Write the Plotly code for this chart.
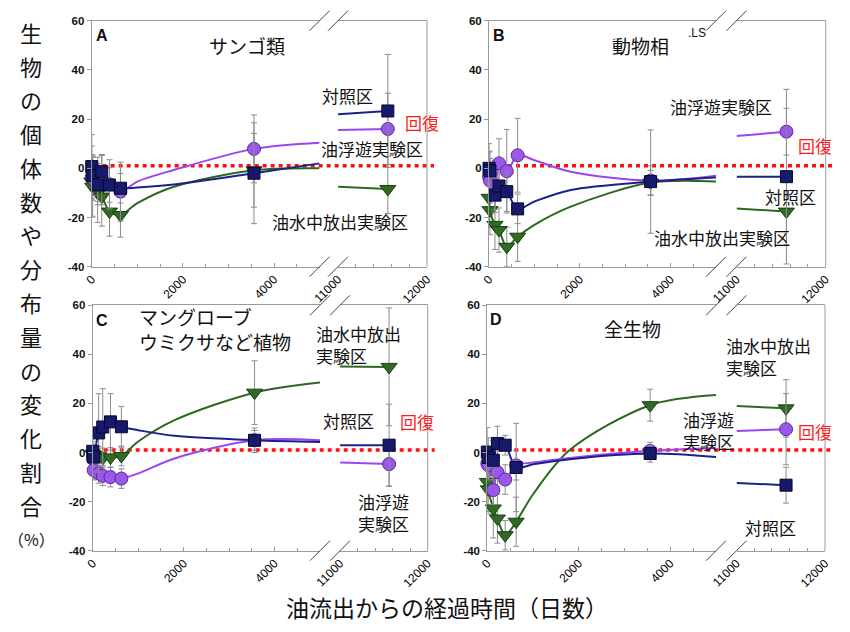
import plotly.graph_objects as go

# The page body has an 8px default margin, so the figure is drawn 8px smaller
# and every reference pixel position is shifted by that offset.
REF_W, REF_H = 850, 632
OFF = 8
W, H = REF_W - OFF, REF_H - OFF

# ---------------- data ----------------
days_early = [0, 20, 130, 220, 390, 630]      # early survey days
day_10y = 3560                                 # ~10 years
day_32y = 11560                                # ~32 years
curve_days = [1000, 1800]                      # points
left_end_day = 5000                            # curve end at axis break
right_start_day = 11000                        # start of right-hand line
recovery_level = 1.0

y_ticks = [-40, -20, 0, 20, 40, 60]
x_ticks_left = [0, 2000, 4000]
x_ticks_right = [11000, 12000]

# Panel A  サンゴ類
A_ctrl = [0.7, -3.0, -6.8, -1.4, -6.8, -8.1]
A_ctrl_10y, A_ctrl_32y = -2.0, 23.3
A_ctrl_err = [13, 8, 8, 7, 7, 6, 20.5, 23]
A_ctrl_curve = [-7.8, -6.6, 2.0]
A_ctrl_rstart = 22.0
A_flt = [-3.4, -4.0, -4.5, -4.8, -6.5, -9.5]
A_flt_10y, A_flt_32y = 7.9, 16.0
A_flt_err = [9, 9, 9, 10, 10, 12, 13.8, 14.5]
A_flt_curve = [-5.4, -0.7, 10.4]
A_flt_rstart = 15.6
A_sub = [-5.4, -7.5, -10.0, -11.5, -17.6, -19.0]
A_sub_10y, A_sub_32y = -0.8, -8.4
A_sub_err = [14.5, 12, 12, 12, 10, 9, 15, 10]
A_sub_curve = [-14.2, -7.5, 0.0]
A_sub_rstart = -7.5

# Panel B  動物相
B_ctrl = [0.0, -1.0, -10.9, -7.2, -9.5, -16.5]
B_ctrl_10y, B_ctrl_32y = -5.4, -3.4
B_ctrl_err = [10, 8, 7, 6, 8, 6, 21, 35.5]
B_ctrl_curve = [-13.5, -8.8, -3.7]
B_ctrl_rstart = -3.4
B_flt = [-3.4, -5.0, -6.8, 2.0, -1.2, 5.3]
B_flt_10y, B_flt_32y = -5.0, 14.9
B_flt_err = [10, 9, 10, 10, 17, 15, 6, 9.5]
B_flt_curve = [3.3, -1.4, -3.0]
B_flt_rstart = 13.1
B_sub = [-12.0, -17.0, -23.0, -25.1, -31.9, -27.8]
B_sub_10y, B_sub_32y = -5.8, -17.6
B_sub_err = [12, 10, 10, 9, 8, 10, 5, 13.5]
B_sub_curve = [-23.0, -15.6, -5.4]
B_sub_rstart = -16.3

# Panel C  マングローブ・ウミクサなど植物
C_ctrl = [0.5, -1.8, 8.0, 10.4, 12.5, 10.5]
C_ctrl_10y, C_ctrl_32y = 5.0, 3.0
C_ctrl_err = [4, 4, 16, 15.6, 11.5, 8.3, 5, 16.7]
C_ctrl_curve = [9.1, 6.8, 4.3]
C_ctrl_rstart = 3.0
C_flt = [-2.5, -7.2, -8.5, -9.5, -10.0, -10.6]
C_flt_10y, C_flt_32y = 5.0, -4.7
C_flt_err = [4, 4, 4, 4, 4, 4, 4, 9]
C_flt_curve = [-8.5, -2.4, 5.0]
C_flt_rstart = -4.1
C_sub = [-0.5, -1.0, -1.5, -2.2, -2.0, -1.4]
C_sub_10y, C_sub_32y = 24.4, 34.9
C_sub_err = [4, 4, 4, 4, 4, 4, 13, 24]
C_sub_curve = [4.5, 13.2, 28.5]
C_sub_rstart = 35.1

# Panel D  全生物
D_ctrl = [0.2, -2.0, -3.1, 3.7, 3.0, -6.1]
D_ctrl_10y, D_ctrl_32y = -0.4, -13.3
D_ctrl_err = [10, 8, 8, 7, 4, 18, 3.5, 7.3]
D_ctrl_curve = [-4.8, -2.7, -1.8]
D_ctrl_rstart = -12.4
D_flt = [-4.5, -5.2, -15.3, -8.0, -11.0, -5.2]
D_flt_10y, D_flt_32y = 0.7, 9.5
D_flt_err = [6, 6, 6, 6, 6, 6, 3.5, 14.5]
D_flt_curve = [-4.1, -2.2, 1.9]
D_flt_rstart = 8.8
D_sub = [-12.0, -15.0, -22.8, -26.9, -33.7, -28.2]
D_sub_10y, D_sub_32y = 19.3, 18.0
D_sub_err = [12, 10, 12, 10, 6, 10, 6.5, 11.7]
D_sub_curve = [-17.0, 1.0, 23.4]
D_sub_rstart = 19.0

# ---------------- styling ----------------
CJK = "Noto Sans CJK JP"
LAT = "Liberation Sans, Arial"
FRAME = "#9a9a9a"

STYLE = {
    "sub": dict(line="#2b6a1e", fill="#2f6b22", edge="#1b3f12", symbol="triangle-down", size=14),
    "flt": dict(line="#9b45f2", fill="#9a58e8", edge="#5b2a9c", symbol="circle", size=13),
    "ctrl": dict(line="#1b2189", fill="#17196a", edge="#05062e", symbol="square", size=12),
}

# panel geometry in reference pixels: left segment, right segment, vertical extent
GEOM = {
    "A": dict(xl=(91.7, 319.6), xr=(338, 427), y=(20.7, 266.7)),
    "B": dict(xl=(489, 716), xr=(736.5, 825.7), y=(20.7, 266.7)),
    "C": dict(xl=(92.7, 320), xr=(340, 427.7), y=(305.3, 550.7)),
    "D": dict(xl=(487.3, 716), xr=(736.5, 825), y=(305.3, 550.7)),
}

PANEL_DATA = {
    "A": {
        "ctrl": (A_ctrl, A_ctrl_10y, A_ctrl_32y, A_ctrl_err, A_ctrl_curve, A_ctrl_rstart),
        "flt": (A_flt, A_flt_10y, A_flt_32y, A_flt_err, A_flt_curve, A_flt_rstart),
        "sub": (A_sub, A_sub_10y, A_sub_32y, A_sub_err, A_sub_curve, A_sub_rstart),
    },
    "B": {
        "ctrl": (B_ctrl, B_ctrl_10y, B_ctrl_32y, B_ctrl_err, B_ctrl_curve, B_ctrl_rstart),
        "flt": (B_flt, B_flt_10y, B_flt_32y, B_flt_err, B_flt_curve, B_flt_rstart),
        "sub": (B_sub, B_sub_10y, B_sub_32y, B_sub_err, B_sub_curve, B_sub_rstart),
    },
    "C": {
        "ctrl": (C_ctrl, C_ctrl_10y, C_ctrl_32y, C_ctrl_err, C_ctrl_curve, C_ctrl_rstart),
        "flt": (C_flt, C_flt_10y, C_flt_32y, C_flt_err, C_flt_curve, C_flt_rstart),
        "sub": (C_sub, C_sub_10y, C_sub_32y, C_sub_err, C_sub_curve, C_sub_rstart),
    },
    "D": {
        "ctrl": (D_ctrl, D_ctrl_10y, D_ctrl_32y, D_ctrl_err, D_ctrl_curve, D_ctrl_rstart),
        "flt": (D_flt, D_flt_10y, D_flt_32y, D_flt_err, D_flt_curve, D_flt_rstart),
        "sub": (D_sub, D_sub_10y, D_sub_32y, D_sub_err, D_sub_curve, D_sub_rstart),
    },
}


def fx(px):
    return (px - OFF) / W


def fy(py):
    return 1 - (py - OFF) / H


fig = go.Figure()
layout = {}
shapes = []
annotations = []

for i, key in enumerate(["A", "B", "C", "D"]):
    g = GEOM[key]
    xl_id = 2 * i + 1
    xr_id = 2 * i + 2
    y_id = i + 1
    xl_name = "xaxis" if xl_id == 1 else f"xaxis{xl_id}"
    xr_name = f"xaxis{xr_id}"
    y_name = "yaxis" if y_id == 1 else f"yaxis{y_id}"
    xl_ref = "x" if xl_id == 1 else f"x{xl_id}"
    xr_ref = f"x{xr_id}"
    y_ref = "y" if y_id == 1 else f"y{y_id}"

    common_x = dict(
        showline=True, linecolor=FRAME, linewidth=1, mirror=True,
        showgrid=False, zeroline=False, ticks="inside", ticklen=4,
        tickcolor=FRAME, tickangle=-45, automargin=False,
        tickfont=dict(family=LAT, size=12, color="#000"),
    )
    layout[xl_name] = dict(
        common_x, domain=[fx(g["xl"][0]), fx(g["xl"][1])], range=[-1, left_end_day],
        anchor=y_ref, tickmode="array", tickvals=x_ticks_left,
        ticktext=[str(v) for v in x_ticks_left],
        minor=dict(dtick=500, ticks="inside", ticklen=3, tickcolor=FRAME),
    )
    layout[xr_name] = dict(
        common_x, domain=[fx(g["xr"][0]), fx(g["xr"][1])],
        range=[right_start_day - 1, x_ticks_right[-1] + 1],
        anchor=y_ref, tickmode="array", tickvals=x_ticks_right,
        ticktext=[str(v) for v in x_ticks_right],
        minor=dict(dtick=200, ticks="inside", ticklen=3, tickcolor=FRAME),
    )
    layout[y_name] = dict(
        domain=[fy(g["y"][1]), fy(g["y"][0])], range=[-40, 60], anchor=xl_ref,
        showline=True, linecolor=FRAME, linewidth=1, showgrid=False,
        zeroline=False, ticks="outside", ticklen=4, tickcolor=FRAME,
        tickvals=y_ticks, ticktext=[str(v) for v in y_ticks], automargin=False,
        tickfont=dict(family=LAT, size=11.5, color="#111", weight="bold"),
    )

    # right edge of frame
    shapes.append(dict(type="line", xref=f"{xr_ref} domain", yref=f"{y_ref} domain",
                       x0=1, x1=1, y0=0, y1=1, line=dict(color=FRAME, width=1)))
    # break marks
    for bx in (g["xl"][1], g["xr"][0]):
        for by in g["y"]:
            shapes.append(dict(type="line", xref="paper", yref="paper",
                               x0=fx(bx - 10), x1=fx(bx + 10),
                               y0=fy(by + 10), y1=fy(by - 10),
                               line=dict(color="#444", width=1)))
    # recovery (dotted red) line
    shapes.append(dict(type="line", xref="paper", yref=y_ref,
                       x0=fx(g["xl"][0] + 3), x1=fx(g["xr"][1] + 7),
                       y0=recovery_level, y1=recovery_level, layer="below",
                       line=dict(color="#ff1010", width=3.5, dash="4px,4px")))

    pdata = PANEL_DATA[key]
    # lines first
    for s in ["sub", "flt", "ctrl"]:
        early, v10, v32, err, curve, rstart = pdata[s]
        st = STYLE[s]
        lx = days_early + curve_days + [day_10y, left_end_day]
        ly = early + curve[:2] + [v10, curve[2]]
        order = sorted(range(len(lx)), key=lambda k: lx[k])
        fig.add_trace(go.Scatter(
            x=[lx[k] for k in order], y=[ly[k] for k in order], mode="lines",
            line=dict(color=st["line"], width=2, shape="spline", smoothing=0.9),
            xaxis=xl_ref, yaxis=y_ref, hoverinfo="skip", showlegend=False))
        fig.add_trace(go.Scatter(
            x=[right_start_day, day_32y], y=[rstart, v32], mode="lines",
            line=dict(color=st["line"], width=2),
            xaxis=xr_ref, yaxis=y_ref, hoverinfo="skip", showlegend=False))
    # markers with error bars
    for s in ["sub", "flt", "ctrl"]:
        early, v10, v32, err, curve, rstart = pdata[s]
        st = STYLE[s]
        mk = dict(symbol=st["symbol"], size=st["size"], color=st["fill"],
                  line=dict(color=st["edge"], width=1))
        eb = dict(type="data", thickness=1, width=3, color="#8c8c8c")
        fig.add_trace(go.Scatter(
            x=days_early + [day_10y], y=early + [v10], mode="markers",
            marker=mk, error_y=dict(eb, array=err[:7]), cliponaxis=False,
            xaxis=xl_ref, yaxis=y_ref, showlegend=False))
        fig.add_trace(go.Scatter(
            x=[day_32y], y=[v32], mode="markers",
            marker=mk, error_y=dict(eb, array=err[7:]), cliponaxis=False,
            xaxis=xr_ref, yaxis=y_ref, showlegend=False))


def txt(text, x, y, size=18, color="#111", family=CJK, xanchor="center",
        align="center", weight="normal"):
    annotations.append(dict(
        text=text, xref="paper", yref="paper", x=fx(x), y=fy(y),
        xanchor=xanchor, yanchor="middle", align=align, showarrow=False,
        font=dict(family=family, size=size, color=color, weight=weight)))


RED = "#ff1a1a"
# panel letters
txt("A", 102, 36, size=16, family=LAT, weight="bold")
txt("B", 499, 36, size=16, family=LAT, weight="bold")
txt("C", 102, 320, size=16, family=LAT, weight="bold")
txt("D", 496, 319, size=16, family=LAT, weight="bold")
txt(".LS", 697, 33, size=12, family=LAT)

# panel A
txt("サンゴ類", 247, 45, size=19)
txt("対照区", 347, 96, size=17)
txt("回復", 422, 122, size=17, color=RED)
txt("油浮遊実験区", 372, 149, size=17)
txt("油水中放出実験区", 340, 221, size=17)
# panel B
txt("動物相", 640, 45, size=19)
txt("油浮遊実験区", 721, 106, size=17)
txt("回復", 815, 145, size=17, color=RED)
txt("対照区", 790, 196, size=17)
txt("油水中放出実験区", 722, 237, size=17)
# panel C
txt("マングローブ<br>ウミクサなど植物", 137, 329, size=19, xanchor="left", align="left")
txt("油水中放出<br>実験区", 314, 344, size=17, xanchor="left", align="left")
txt("対照区", 348, 420, size=17)
txt("回復", 417, 421, size=17, color=RED)
txt("油浮遊<br>実験区", 356, 512, size=17, xanchor="left", align="left")
# panel D
txt("全生物", 632, 328, size=19)
txt("油水中放出<br>実験区", 724, 356, size=17, xanchor="left", align="left")
txt("油浮遊<br>実験区", 681, 430, size=17, xanchor="left", align="left")
txt("回復", 815, 431, size=17, color=RED)
txt("対照区", 770, 527, size=17)

# vertical y title, one character per line
y_title_chars = list("生物の個体数や分布量の変化割合")
for k, ch in enumerate(y_title_chars):
    txt(ch, 31, 31.7 + k * 33.8, size=22)
txt("（%）", 31, 539, size=16)

# x title
txt("油流出からの経過時間（日数）", 447, 607, size=23)

fig.update_layout(
    width=W, height=H, margin=dict(l=0, r=0, t=0, b=0, autoexpand=False),
    paper_bgcolor="white", plot_bgcolor="rgba(0,0,0,0)",
    shapes=shapes, annotations=annotations, showlegend=False,
    **layout,
)

fig.write_html("out.html")
